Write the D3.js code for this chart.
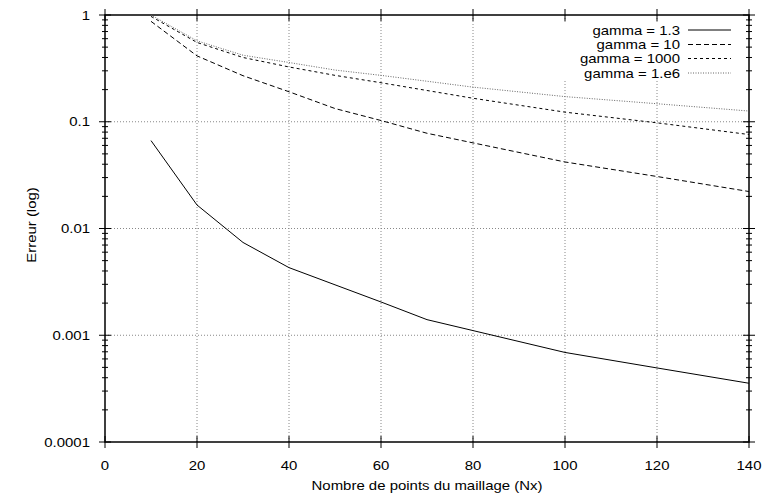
<!DOCTYPE html>
<html><head><meta charset="utf-8">
<script src="https://cdn.jsdelivr.net/npm/d3@7/dist/d3.min.js"></script>
<style>body{margin:0;background:#fff}svg text{font-family:"Liberation Sans",Arial,sans-serif;}</style>
</head><body>
<svg id="c" width="762" height="498"></svg>
<script>
const xTicks = [0,20,40,60,80,100,120,140];
const yTicks = [1,0.1,0.01,0.001,0.0001];
const yTickLabels = ["1","0.1","0.01","0.001","0.0001"];
const seriesNames = ["gamma = 1.3","gamma = 10","gamma = 1000","gamma = 1.e6"];
const nx13 = [10,20,30,40,60,70,100,120,140];
const g13  = [0.0666,0.0166,0.0074,0.0043,0.00205,0.0014,0.00069,0.000494,0.000355];
const nx10 = [10,20,30,40,50,60,70,80,100,120,140];
const g10  = [0.872,0.414,0.27,0.191,0.133,0.1027,0.078,0.0634,0.042,0.0307,0.0222];
const nx1000 = [10,20,30,40,50,60,80,100,120,140];
const g1000  = [0.97,0.553,0.40,0.326,0.272,0.232,0.166,0.123,0.0977,0.0759];
const nx1e6 = [10,20,30,40,50,60,80,100,120,140];
const g1e6  = [1.0,0.573,0.42,0.359,0.305,0.272,0.211,0.172,0.1475,0.126];

const svg = d3.select("#c");
const L=105, R=749, T=15, B=442;
const SX = 1.15;
const x = d3.scaleLinear().domain([0,140]).range([L,R]);
const y = d3.scaleLog().domain([0.0001,1]).range([B,T]);

function txt(px, py, s, anchor, rot) {
  return svg.append("text")
    .attr("transform", `translate(${px},${py})` + (rot ? ` rotate(${rot})` : "") + ` scale(${SX},1)`)
    .attr("text-anchor", anchor).attr("font-size", 13).attr("fill", "#000").text(s);
}

// grid
const grid = svg.append("g").attr("stroke","#888").attr("stroke-width",1).attr("stroke-dasharray","1,2");
xTicks.slice(1,-1).forEach(v=>grid.append("line").attr("x1",x(v)).attr("x2",x(v)).attr("y1",T).attr("y2",B));
yTicks.slice(1,-1).forEach(v=>grid.append("line").attr("x1",L).attr("x2",R).attr("y1",y(v)).attr("y2",y(v)));

// legend blank area
svg.append("rect").attr("x",556).attr("y",22).attr("width",190).attr("height",58).attr("fill","#fff");

// axes with ticks
const minor = [];
for (let e=-4;e<0;e++) for (let k=2;k<=9;k++) minor.push(k*Math.pow(10,e));
const axG = svg.append("g").attr("stroke","#000").attr("stroke-width",1);
yTicks.forEach(v=>{
  axG.append("line").attr("x1",L-6).attr("x2",L+6).attr("y1",y(v)).attr("y2",y(v));
  axG.append("line").attr("x1",R-6).attr("x2",R+6).attr("y1",y(v)).attr("y2",y(v));
});
minor.forEach(v=>{
  axG.append("line").attr("x1",L-3).attr("x2",L+3).attr("y1",y(v)).attr("y2",y(v));
  axG.append("line").attr("x1",R-3).attr("x2",R+3).attr("y1",y(v)).attr("y2",y(v));
});
xTicks.forEach(v=>{
  axG.append("line").attr("x1",x(v)).attr("x2",x(v)).attr("y1",B-6).attr("y2",B+6);
  axG.append("line").attr("x1",x(v)).attr("x2",x(v)).attr("y1",T-6).attr("y2",T+6);
});
svg.append("rect").attr("x",L).attr("y",T).attr("width",R-L).attr("height",B-T)
  .attr("fill","none").attr("stroke","#000").attr("stroke-width",1.5);

// tick labels
xTicks.forEach(v=>txt(x(v), 470, String(v), "middle"));
yTicks.forEach((v,i)=>txt(90, y(v)+4.5, yTickLabels[i], "end"));
txt(427, 490, "Nombre de points du maillage (Nx)", "middle");
txt(36, 225, "Erreur (log)", "middle", -90);

// series
const styles = [
  {dash:null, color:"#000", w:1},
  {dash:"5,3", color:"#000", w:1},
  {dash:"3,3", color:"#000", w:1},
  {dash:"1,1.5", color:"#666", w:1}
];
const series = [[nx13,g13],[nx10,g10],[nx1000,g1000],[nx1e6,g1e6]];
const line = d3.line().x(d=>x(d[0])).y(d=>y(d[1]));
svg.append("clipPath").attr("id","cp").append("rect").attr("x",L).attr("y",T).attr("width",R-L).attr("height",B-T);
series.forEach((s,i)=>{
  const pts = s[0].map((v,j)=>[v,s[1][j]]);
  const p = svg.append("path").attr("d",line(pts)).attr("fill","none")
    .attr("stroke",styles[i].color).attr("stroke-width",styles[i].w).attr("clip-path","url(#cp)");
  if (styles[i].dash) p.attr("stroke-dasharray",styles[i].dash);
});

// legend
const ly = [30,44.5,58.5,73];
seriesNames.forEach((n,i)=>{
  txt(680, ly[i]+4.5, n, "end");
  const l = svg.append("line").attr("x1",688).attr("x2",731).attr("y1",ly[i]).attr("y2",ly[i])
    .attr("stroke",styles[i].color).attr("stroke-width",styles[i].w);
  if (styles[i].dash) l.attr("stroke-dasharray",styles[i].dash);
});
</script>
</body></html>
